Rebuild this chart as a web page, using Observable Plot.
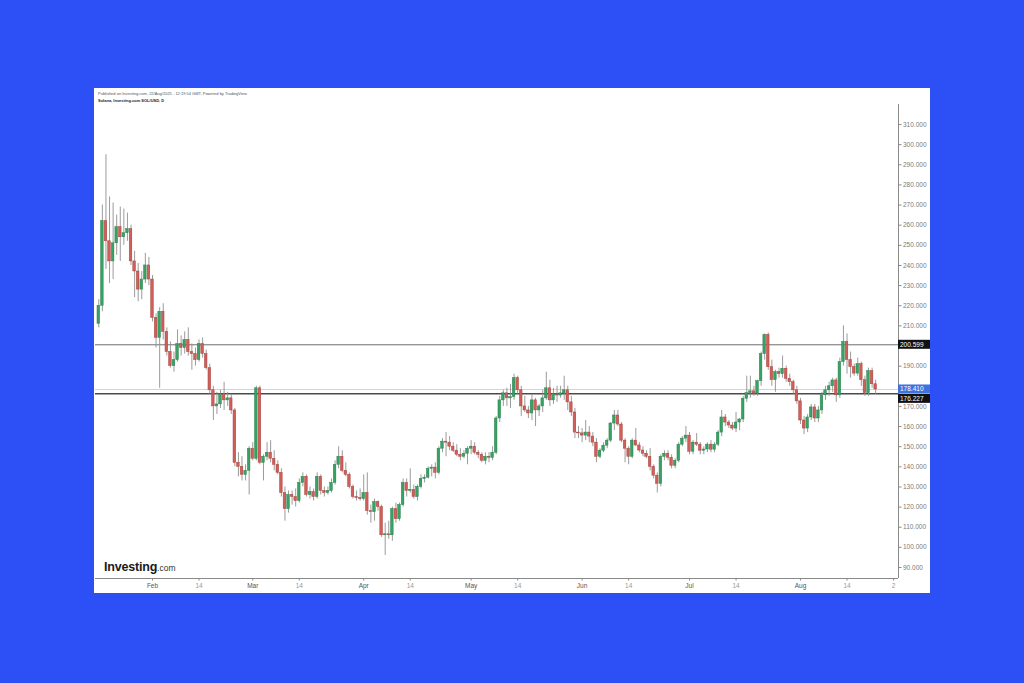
<!DOCTYPE html>
<html><head><meta charset="utf-8">
<script src="https://cdn.jsdelivr.net/npm/d3@7"></script>
<script src="https://cdn.jsdelivr.net/npm/@observablehq/plot@0.6"></script>
<style>
html,body{margin:0;padding:0;background:#2c50f6;width:1024px;height:683px;overflow:hidden;font-family:"Liberation Sans",Arial,sans-serif}
#panel{position:absolute;left:94px;top:88px;width:836px;height:505px;background:#fff;overflow:hidden}
#chart{position:absolute;left:0;top:0}
#h1{position:absolute;left:4px;top:3px;font-size:4px;color:#555;white-space:nowrap;z-index:2}
#h2{position:absolute;left:4px;top:10px;font-size:4px;color:#222;font-weight:bold;white-space:nowrap;z-index:2}
#logo{position:absolute;left:10px;top:469px;white-space:nowrap;z-index:2;color:#1a1a1a}
#logo b{font-size:12.5px;font-weight:bold;letter-spacing:-0.2px}
#logo span{font-size:8.5px;color:#333}
</style></head>
<body>
<div id="panel">
  <div id="h1">Published on Investing.com, 22/Aug/2025 - 12:19:54 GMT, Powered by TradingView</div>
  <div id="h2">Solana, Investing.com SOL/USD, D</div>
  <div id="chart"></div>
  <div id="logo"><b>Investing</b><span>.com</span></div>
</div>
<script>
// [MM-DD, open, high, low, close]
const jan = [
["01-17",211,223,209,220],["01-18",220,270,217,262],["01-19",262,295,238,252],["01-20",252,274,231,242],
["01-21",242,271,233,251],["01-22",251,265,245,259],["01-23",259,269,242,254],["01-24",254,268,250,256],
["01-25",256,266,252,258],["01-26",258,260,240,242],["01-27",242,247,224,237],["01-28",237,241,222,228],
["01-29",228,237,223,233],["01-30",233,246,231,240],["01-31",240,244,230,233]];
const feb = [
["02-01",233,235,212,214],["02-02",214,216,199,204],["02-03",204,219,179,217],["02-04",217,221,203,207],
["02-05",207,209,195,197],["02-06",197,202,189,190],["02-07",190,197,187,193],["02-08",193,208,192,201],
["02-09",201,205,195,199],["02-10",199,207,196,203],["02-11",203,209,195,197],["02-12",197,201,188,196],
["02-13",196,199,190,193],["02-14",193,203,192,201],["02-15",201,204,194,196],["02-16",196,198,188,189],
["02-17",189,191,176,178],["02-18",178,180,163,170],["02-19",170,177,166,171],["02-20",171,178,169,176],
["02-21",176,182,168,173],["02-22",173,177,170,174],["02-23",174,176,166,168],["02-24",168,169,140,142],
["02-25",142,147,135,140],["02-26",140,145,133,136],["02-27",136,141,133,138],["02-28",138,150,126,149]];
const mar = [
["03-01",149,152,143,144],["03-02",144,180,143,179],["03-03",179,180,141,142],["03-04",142,146,133,145],
["03-05",145,152,143,147],["03-06",147,153,142,144],["03-07",144,148,138,141],["03-08",141,143,136,137],
["03-09",137,139,125,127],["03-10",127,130,113,119],["03-11",119,128,117,126],["03-12",126,128,121,125],
["03-13",125,129,120,123],["03-14",123,134,122,132],["03-15",132,137,130,135],["03-16",135,136,125,126],
["03-17",126,130,124,127.5],["03-18",127.5,129,123,125],["03-19",125,137,124,135],["03-20",135,136,126,128],
["03-21",128,130,125,127],["03-22",127,130,126,128],["03-23",128,134,127,132],["03-24",132,143,131,141],
["03-25",141,150,139,145],["03-26",145,148,137,138],["03-27",138,142,135,136],["03-28",136,137,129,130],
["03-29",130,131,124,125],["03-30",125,128,123,124.5],["03-31",124.5,129,123,124]];
const apr = [
["04-01",124,136,123,127],["04-02",127,137,116,118],["04-03",118,121,112,117.5],["04-04",117.5,124,113,122.5],
["04-05",122.5,123,118,120],["04-06",120,121,105,106],["04-07",106,112,96,106.5],["04-08",106.5,113,104,106],
["04-09",106,120,103,119],["04-10",119,122,112,114],["04-11",114,122,113,121],["04-12",121,134,120,132],
["04-13",132,134,125,128],["04-14",128,139,127,128.6],["04-15",128.6,131,124,125],["04-16",125,131,123,130],
["04-17",130,136,129,134],["04-18",134,136,132,134.6],["04-19",134.6,140,134,139],["04-20",139,141,135,139.6],
["04-21",139.6,142,134,137],["04-22",137,150,136,149],["04-23",149,154,147,152.5],["04-24",152.5,157,145,152],
["04-25",152,155,148,150],["04-26",150,152,147,148],["04-27",148,151,145,146],["04-28",146,149,143,145],
["04-29",145,148,144,146.5],["04-30",146.5,150,141,149]];
const may = [
["05-01",149,153,146,150],["05-02",150,152,146,147],["05-03",147,148,144,146],["05-04",146,147,142,143],
["05-05",143,147,141,145],["05-06",145,147,142,144.4],["05-07",144.4,150,143,147],["05-08",147,165,146,164],
["05-09",164,175,162,173],["05-10",173,178,170,176.5],["05-11",176.5,179,170,174],["05-12",174,181,169,174.6],
["05-13",174.6,186,173,184],["05-14",184,185,176,178],["05-15",178,180,165,170],["05-16",170,175,167,168],
["05-17",168,170,164,166.5],["05-18",166.5,176,163,173],["05-19",173,174,160,168],["05-20",168,171,165,170],
["05-21",170,178,167,174],["05-22",174,187,173,179],["05-23",179,183,170,173],["05-24",173,179,171,176],
["05-25",176,180,172,175.4],["05-26",175.4,180,174,176.5],["05-27",176.5,185,173,178],["05-28",178,180,168,172],
["05-29",172,175,165,167],["05-30",167,169,154,157],["05-31",157,160,154,156.6]];
const jun = [
["06-01",156.6,159,152,155.5],["06-02",155.5,163,153,157],["06-03",157,160,152,155],["06-04",155,157,150,152],
["06-05",152,154,142,145],["06-06",145,149,144,148],["06-07",148,152,147,150.5],["06-08",150.5,154,149,153],
["06-09",153,162,152,161.5],["06-10",161.5,168,158,165.5],["06-11",165.5,168,160,161],["06-12",161,162,152,153],
["06-13",153,154,142,149],["06-14",149,150,141,145],["06-15",145,154,144,153],["06-16",153,159,150,150.6],
["06-17",150.6,152,147,148.1],["06-18",148.1,150,145,146.5],["06-19",146.5,148,144,145],["06-20",145,149,138,140],
["06-21",140,141,134,135.6],["06-22",135.6,137,127,131.5],["06-23",131.5,146,130,145],["06-24",145,148,143,146.5],
["06-25",146.5,148,143,144.5],["06-26",144.5,146,139,140.5],["06-27",140.5,144,139,143],["06-28",143,152,142,151],
["06-29",151,155,150,154],["06-30",154,160,152,155.5]];
const jul = [
["07-01",155.5,157,146,147.5],["07-02",147.5,153,146,152],["07-03",152,156.5,150,151],["07-04",151,152,146,148],
["07-05",148,150,146,148.6],["07-06",148.6,152,147,151],["07-07",151,153,147,148.5],["07-08",148.5,152,147,151],
["07-09",151,158,150,157],["07-10",157,168,155,164.5],["07-11",164.5,166,160,162],["07-12",162,163,159,160.5],
["07-13",160.5,162,158,159],["07-14",159,167,157,162],["07-15",162,164,158,163.5],["07-16",163.5,175,162,173.8],
["07-17",173.8,185,172,176.6],["07-18",176.6,185,174,177.5],["07-19",177.5,180,175,176.4],["07-20",176.4,183,175,182.5],
["07-21",182.5,197,180,196],["07-22",196,206,193,205.5],["07-23",205.5,206.5,188,189.5],["07-24",189.5,193,180,183],
["07-25",183,188,177,187],["07-26",187,189,184,186],["07-27",186,195,184,188.7],["07-28",188.7,190,182,183.7],
["07-29",183.7,186,180,182],["07-30",182,183,176,178],["07-31",178,180,171,172.5]];
const aug = [
["08-01",172.5,174,161,163],["08-02",163,165,156,159],["08-03",159,166,157,164.5],["08-04",164.5,171,163,169.5],
["08-05",169.5,171,162,164],["08-06",164,170,162,168],["08-07",168,177,166,175.5],["08-08",175.5,180,173,178],
["08-09",178,182,175,180],["08-10",180,184,177,182.9],["08-11",182.9,184,172,175.5],["08-12",175.5,194,174,192],
["08-13",192,210,190,202],["08-14",202,206,186,193],["08-15",193,197,184,189.5],["08-16",189.5,191,185,186.3],
["08-17",186.3,194,185,191],["08-18",191,192,180,183],["08-19",183,185,175,176.6],["08-20",176.6,189,175,187.5],
["08-21",187.5,189,179,181],["08-22",181,183,176,178.41]];

// 180 and 200 are hidden behind the price tags in the reference
const yTicks = [90,100,110,120,130,140,150,160,170,190,210,220,230,240,250,260,270,280,290,300,310];
const monthTicks = ["2025-02-01","2025-03-01","2025-04-01","2025-05-01","2025-06-01","2025-07-01","2025-08-01"];
const monthLabels = ["Feb","Mar","Apr","May","Jun","Jul","Aug"];
const midTicks = ["2025-02-14","2025-03-14","2025-04-14","2025-05-14","2025-06-14","2025-07-14","2025-08-14","2025-08-27"];
const midLabels = ["14","14","14","14","14","14","14","2"];
const levels = [200.599, 176.227];
const lastPrice = 178.410;

const DAY = 864e5;
const candles = [...jan, ...feb, ...mar, ...apr, ...may, ...jun, ...jul, ...aug].map(([md,o,h,l,c]) => ({
  date: new Date("2025-" + md + "T00:00:00Z"), o, h, l, c
}));
const feb1 = Date.UTC(2025,1,1);
const xDomain = [new Date(feb1 - 15.92*DAY), new Date(feb1 + 208.38*DAY)];
const yDomain = [84.54, 319.93];
const mDates = monthTicks.map(s => new Date(s + "T00:00:00Z"));
const dDates = midTicks.map(s => new Date(s + "T00:00:00Z"));
const mMap = new Map(mDates.map((d,i) => [+d, monthLabels[i]]));
const dMap = new Map(dDates.map((d,i) => [+d, midLabels[i]]));
const GREEN = "#38a264", GREEN_S = "#2b8150", RED = "#cf5f59", RED_S = "#a9433e";

const chart = Plot.plot({
  width: 836, height: 505,
  marginLeft: 1, marginRight: 32, marginTop: 16, marginBottom: 15,
  style: {fontFamily: "'Liberation Sans', Arial, sans-serif", fontSize: "7px", background: "transparent"},
  x: {type: "utc", domain: xDomain},
  y: {domain: yDomain},
  marks: [
    Plot.ruleY([lastPrice], {stroke: "#ccd3e2", strokeWidth: 1}),
    Plot.ruleY([levels[0]], {stroke: "#6e6e6e", strokeWidth: 1}),
    Plot.ruleY([levels[1]], {stroke: "#4a4a4a", strokeWidth: 1.5}),
    Plot.ruleX(candles, {x: "date", y1: "l", y2: "h", stroke: "#8f8f8f", strokeWidth: 0.9}),
    Plot.rect(candles, {
      x1: d => new Date(+d.date - 0.36*DAY), x2: d => new Date(+d.date + 0.36*DAY),
      y1: "o", y2: d => (Math.abs(d.c - d.o) < 0.4 ? d.o + (d.c >= d.o ? 0.4 : -0.4) : d.c),
      fill: d => d.c >= d.o ? GREEN : RED,
      stroke: d => d.c >= d.o ? GREEN_S : RED_S, strokeWidth: 0.5
    }),
    Plot.ruleX([xDomain[1]], {stroke: "#8a8a8a", strokeWidth: 1}),
    Plot.ruleY([yDomain[0]], {stroke: "#8a8a8a", strokeWidth: 1}),
    Plot.axisY({anchor: "right", ticks: yTicks, tickFormat: d3.format(".3f"), tickSize: 2.5, tickPadding: 2,
      fontSize: 6.5, color: "#7a7a7a", stroke: "#8a8a8a"}),
    Plot.axisX({ticks: mDates, tickFormat: d => mMap.get(+d), tickSize: 2.5, tickPadding: 2,
      fontSize: 6.5, color: "#555", stroke: "#8a8a8a"}),
    Plot.axisX({ticks: dDates, tickFormat: d => dMap.get(+d), tickSize: 2.5, tickPadding: 2,
      fontSize: 6.5, color: "#999", stroke: "#8a8a8a"})
  ]
});
document.getElementById("chart").appendChild(chart);

// price tags on the right axis, positioned through the y scale
const ys = chart.scale("y");
const svg = d3.select(chart);
const tags = [
  {v: levels[0], fill: "#111", dy: 0},
  {v: lastPrice, fill: "#3f72dc", dy: 0},
  {v: levels[1], fill: "#111", dy: 5}
];
const g = svg.append("g").attr("text-anchor", "start");
tags.forEach(t => {
  const cy = ys.apply(t.v) + t.dy;
  g.append("rect").attr("x", 804).attr("y", cy - 4.5).attr("width", 32).attr("height", 9).attr("fill", t.fill);
  g.append("text").attr("x", 806).attr("y", cy).attr("dy", "0.35em").attr("fill", "#fff")
    .attr("text-anchor", "start")
    .attr("font-size", 6.5).attr("font-family", "'Liberation Sans', Arial, sans-serif")
    .text(d3.format(".3f")(t.v));
});
</script>
</body></html>
